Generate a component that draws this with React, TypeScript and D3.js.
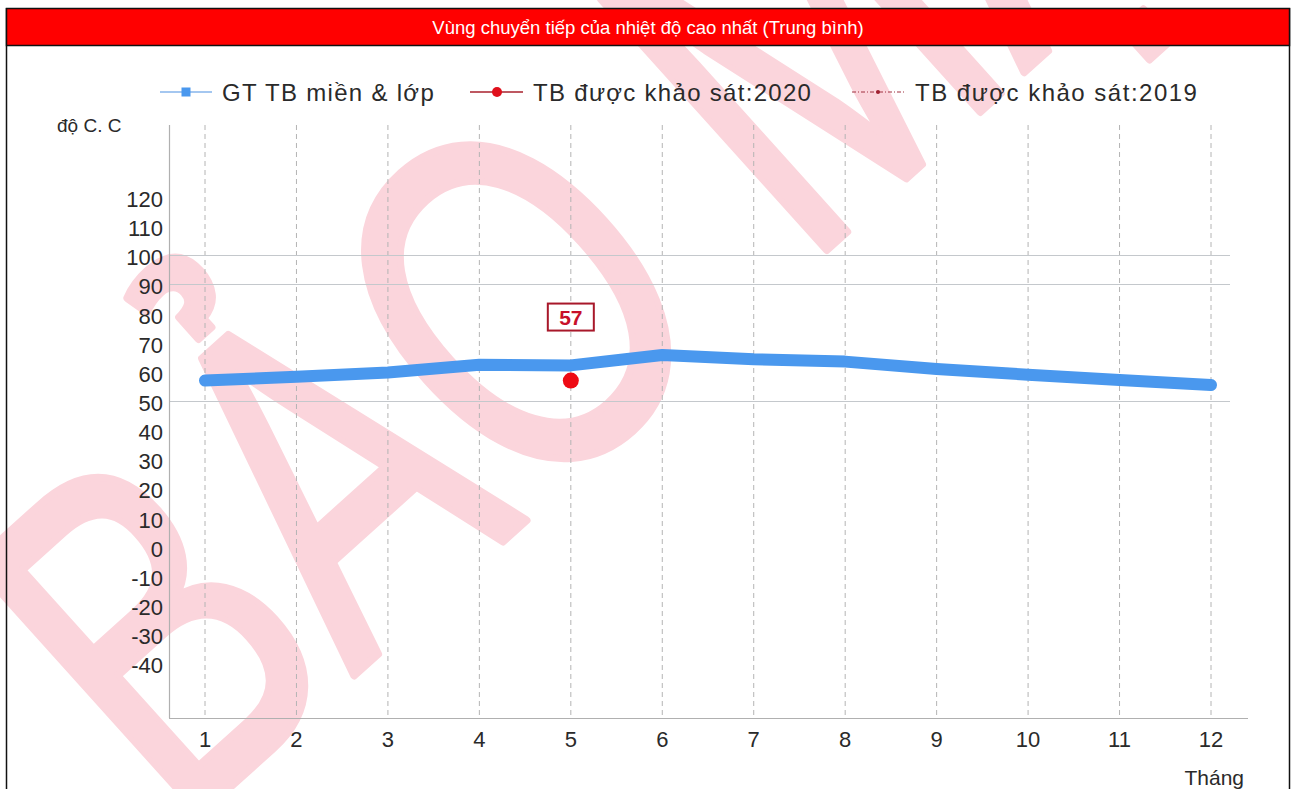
import React from "react";
import * as d3 from "d3";

const months = [1, 2, 3, 4, 5, 6, 7, 8, 9, 10, 11, 12];
const avgValues = [57, 58.3, 59.8, 62.4, 62.2, 65.8, 64.3, 63.5, 61, 59, 57.2, 55.5];
const survey2020Months = [5];
const survey2020Values = [57];
const yTickValues = [120, 110, 100, 90, 80, 70, 60, 50, 40, 30, 20, 10, 0, -10, -20, -30, -40];
const hGridValues = [100, 90, 50];
const legendLabels = ["GT TB miền & lớp", "TB được khảo sát:2020", "TB được khảo sát:2019"];
const titleText = "Vùng chuyển tiếp của nhiệt độ cao nhất (Trung bình)";
const yAxisTitle = "độ C. C";
const xAxisTitle = "Tháng";
const watermarkText = "BẢO MẬT";

const W = 1294;
const H = 789;

export default function App() {
  const x = d3.scaleLinear().domain([1, 12]).range([205, 1211]);
  const y = d3.scaleLinear().domain([-58.8, 144.7]).range([718, 125]);
  const axisLeft = 169;
  const axisRight = 1248;
  const gridRight = 1230;
  const top = 125;
  const bottom = 718;

  const line = d3
    .line<number>()
    .x((_, i) => x(months[i]))
    .y((d) => y(d));

  const font = "'Liberation Sans', Arial, sans-serif";
  const txt = "#2a2a2a";

  return (
    <svg
      width={W}
      height={H}
      style={{ position: "absolute", left: 0, top: 0, background: "#fff" }}
    >
      {/* watermark */}
      <text
        transform="translate(178,834) rotate(-42) scale(0.72,1)"
        fontSize={490}
        fontFamily={font}
        fill="#fbd5dc"
        stroke="#fbd5dc"
        strokeWidth={8}
        strokeLinejoin="round"
      >
        {watermarkText}
      </text>

      {/* frame */}
      <line x1={6.5} y1={8} x2={6.5} y2={H} stroke="#111" strokeWidth={1.5} />
      <line x1={1289.5} y1={8} x2={1289.5} y2={H} stroke="#111" strokeWidth={1.5} />
      <rect x={6.5} y={8.5} width={1283} height={37} fill="#ff0000" stroke="#111" strokeWidth={1.5} />
      <text
        x={648}
        y={34}
        textAnchor="middle"
        fontSize={18.5}
        fontFamily={font}
        fill="#fff"
      >
        {titleText}
      </text>

      {/* legend */}
      <g fontFamily={font} fontSize={24} fill={txt} letterSpacing={1.3}>
        <line x1={160} y1={92} x2={212} y2={92} stroke="#4a90e2" strokeWidth={1.2} />
        <rect x={181.5} y={87.5} width={9} height={9} fill="#4a98ee" />
        <text x={222} y={101}>{legendLabels[0]}</text>

        <line x1={470} y1={92} x2={523} y2={92} stroke="#a8202c" strokeWidth={1.5} />
        <circle cx={497} cy={92} r={5} fill="#e0101c" />
        <text x={533} y={101}>{legendLabels[1]}</text>

        <line x1={852} y1={92} x2={905} y2={92} stroke="#a03040" strokeWidth={1} strokeDasharray="4,2,1,2" />
        <circle cx={878} cy={92} r={2} fill="#a02030" />
        <text x={915} y={101} letterSpacing={1.5}>{legendLabels[2]}</text>
      </g>

      {/* grid */}
      {months.map((m) => (
        <line
          key={"v" + m}
          x1={x(m)}
          x2={x(m)}
          y1={top}
          y2={bottom}
          stroke="#b4b4b4"
          strokeWidth={1}
          strokeDasharray="5,4"
        />
      ))}
      {hGridValues.map((v) => (
        <line
          key={"h" + v}
          x1={axisLeft}
          x2={gridRight}
          y1={Math.round(y(v)) + 0.5}
          y2={Math.round(y(v)) + 0.5}
          stroke="#c4c8cc"
          strokeWidth={1.2}
        />
      ))}

      {/* axes */}
      <line x1={axisLeft + 0.5} x2={axisLeft + 0.5} y1={top} y2={bottom} stroke="#b0b0b0" strokeWidth={1.2} />
      <line x1={axisLeft} x2={axisRight} y1={bottom + 0.5} y2={bottom + 0.5} stroke="#b0b0b0" strokeWidth={1.2} />

      <g fontFamily={font} fontSize={22} fill={txt}>
        {yTickValues.map((v) => (
          <text key={"yt" + v} x={163} y={y(v) + 10} textAnchor="end">
            {v}
          </text>
        ))}
        {months.map((m) => (
          <text key={"xt" + m} x={x(m)} y={747} textAnchor="middle">
            {m}
          </text>
        ))}
        <text x={57} y={132} fontSize={19}>{yAxisTitle}</text>
        <text x={1244} y={785} textAnchor="end" fontSize={21}>{xAxisTitle}</text>
      </g>

      {/* series */}
      <path
        d={line(avgValues) || ""}
        fill="none"
        stroke="#4a98ee"
        strokeWidth={12}
        strokeLinecap="round"
        strokeLinejoin="round"
      />
      {survey2020Values.map((v, i) => (
        <g key={"s" + i}>
          <circle cx={x(survey2020Months[i])} cy={y(v)} r={8} fill="#ee0a14" />
          <rect
            x={x(survey2020Months[i]) - 23}
            y={y(v) - 77}
            width={46}
            height={27}
            fill="#fff"
            stroke="#a8182a"
            strokeWidth={2}
          />
          <text
            x={x(survey2020Months[i])}
            y={y(v) - 56}
            textAnchor="middle"
            fontFamily={font}
            fontSize={21}
            fontWeight="bold"
            fill="#c8102a"
          >
            {v}
          </text>
        </g>
      ))}
    </svg>
  );
}
